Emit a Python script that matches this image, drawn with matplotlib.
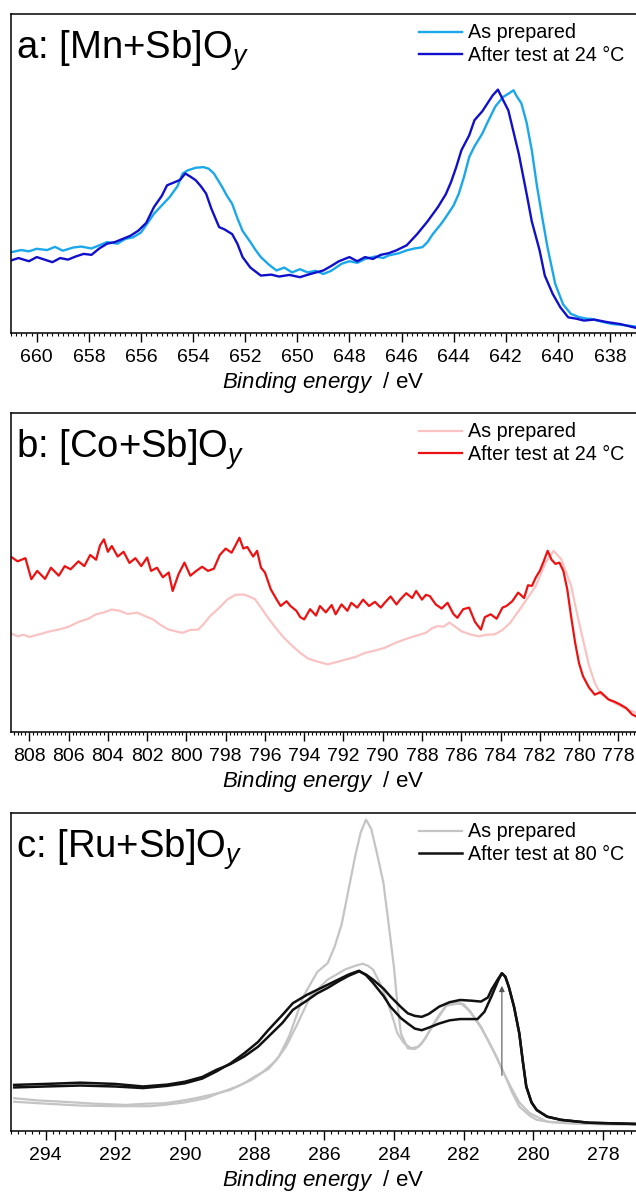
import matplotlib
matplotlib.use('Agg')
import matplotlib.pyplot as plt
from matplotlib.ticker import MultipleLocator

plt.rcParams['font.family'] = ['Liberation Sans', 'DejaVu Sans']
plt.rcParams['mathtext.fontset'] = 'custom'
plt.rcParams['mathtext.rm'] = 'Liberation Sans'
plt.rcParams['mathtext.it'] = 'Liberation Sans:italic'

# ── panel a: Mn 2p ──
mn_prep_x = [661.0, 660.6, 660.3, 660.0, 659.6, 659.3, 659.0, 658.6, 658.3, 657.9, 657.6, 657.3, 656.9,
             656.6, 656.3, 656.0, 655.7, 655.5, 655.2, 654.9, 654.6, 654.4, 654.2, 653.9, 653.6, 653.4,
             653.2, 652.9, 652.7, 652.5, 652.3, 652.1, 651.8, 651.6, 651.4, 651.1, 650.8, 650.5, 650.2,
             649.9, 649.6, 649.3, 649.0, 648.7, 648.3, 648.0, 647.7, 647.4, 647.0, 646.7, 646.5, 646.1,
             645.8, 645.5, 645.2, 645.0, 644.8, 644.5, 644.3, 644.0, 643.8, 643.6, 643.4, 643.2, 642.9,
             642.7, 642.4, 642.1, 641.9, 641.7, 641.6, 641.4, 641.2, 641.0, 640.8, 640.6, 640.4, 640.1,
             639.8, 639.5, 639.2, 638.9, 638.7, 638.3, 637.9, 637.5, 637.0]
mn_prep_y = [25.3, 26.0, 25.6, 26.4, 26.0, 27.0, 25.8, 26.8, 27.1, 26.5, 27.5, 28.5, 28.0,
             29.5, 30.0, 31.5, 35.0, 37.4, 40.0, 42.6, 46.0, 50.0, 51.0, 51.8, 52.0, 51.5,
             50.0, 46.0, 43.0, 40.5, 36.0, 32.0, 28.5, 26.0, 23.8, 21.5, 19.6, 20.5, 19.0,
             20.0, 19.0, 19.5, 18.5, 19.5, 21.7, 22.5, 22.0, 23.2, 24.0, 23.5, 24.3, 25.0,
             25.9, 26.5, 26.9, 28.5, 31.0, 34.0, 36.3, 40.0, 43.7, 49.0, 55.2, 58.5, 62.5,
             66.0, 71.0, 74.0, 75.0, 76.1, 74.5, 72.0, 66.0, 57.3, 46.0, 36.3, 27.0, 15.4,
             9.0, 6.0, 5.0, 4.5, 4.4, 3.5, 2.8, 2.5, 2.0]
mn_test_x = [661.0, 660.7, 660.3, 660.0, 659.7, 659.4, 659.1, 658.8, 658.5, 658.2, 657.9, 657.6, 657.3,
             657.0, 656.7, 656.4, 656.1, 655.8, 655.5, 655.2, 655.0, 654.7, 654.5, 654.3, 654.1, 653.9,
             653.7, 653.5, 653.3, 653.0, 652.8, 652.5, 652.3, 652.1, 651.8, 651.4, 651.0, 650.7, 650.3,
             649.9, 649.5, 649.0, 648.7, 648.4, 648.0, 647.7, 647.4, 647.1, 646.8, 646.5, 646.2, 645.8,
             645.4, 645.0, 644.6, 644.3, 644.1, 643.9, 643.7, 643.4, 643.2, 642.9, 642.7, 642.5, 642.3,
             642.1, 641.9, 641.7, 641.5, 641.2, 641.0, 640.7, 640.5, 640.2, 639.9, 639.6, 639.3, 639.0,
             638.6, 638.1, 637.6, 637.0]
mn_test_y = [22.7, 23.5, 22.5, 23.8, 23.0, 22.2, 23.5, 23.0, 24.0, 24.8, 24.5, 26.5, 28.0,
             28.5, 29.5, 30.5, 32.1, 34.5, 39.5, 43.0, 46.3, 47.3, 48.0, 50.0, 49.0, 47.9,
             46.0, 43.7, 39.0, 33.2, 32.5, 31.0, 28.0, 23.8, 20.5, 18.0, 18.3, 17.7, 18.2,
             17.5, 18.5, 19.6, 21.0, 22.5, 23.8, 22.5, 23.8, 23.2, 24.5, 25.0, 25.9, 27.5,
             31.0, 35.0, 39.5, 43.5, 47.3, 52.0, 57.3, 62.0, 66.7, 69.5, 72.0, 74.5, 76.3,
             73.0, 69.8, 63.0, 56.2, 43.7, 35.0, 25.9, 18.0, 12.3, 8.0, 4.9, 4.5, 3.9,
             4.2, 3.4, 2.8, 1.6]

# ── panel b: Co 2p ──
co_prep_x = [809.0, 808.6, 808.3, 808.0, 807.5, 807.0, 806.5, 806.0, 805.5, 805.0, 804.6, 804.2, 803.8,
             803.4, 803.0, 802.5, 802.1, 801.7, 801.3, 800.9, 800.5, 800.2, 799.8, 799.4, 799.1, 798.8,
             798.4, 797.9, 797.5, 797.1, 796.8, 796.5, 796.2, 795.9, 795.5, 795.1, 794.7, 794.2, 793.8,
             793.4, 792.8, 792.3, 791.9, 791.4, 790.9, 790.4, 789.9, 789.4, 788.9, 788.4, 787.8, 787.5,
             787.2, 786.9, 786.6, 786.3, 786.0, 785.5, 785.1, 784.7, 784.3, 783.9, 783.5, 782.9, 782.2,
             781.7, 781.3, 780.9, 780.4, 780.1, 779.8, 779.5, 779.2, 778.9, 778.5, 778.1, 777.7, 777.1]
co_prep_y = [31.1, 30.0, 30.5, 29.8, 30.6, 31.5, 32.1, 33.0, 34.5, 35.5, 36.9, 37.5, 38.4,
             38.0, 37.0, 37.4, 36.3, 35.3, 33.5, 32.1, 31.5, 31.1, 32.0, 32.1, 34.0, 36.3,
             38.5, 41.6, 43.0, 43.1, 42.5, 41.6, 39.0, 36.3, 33.0, 30.0, 27.5, 24.8, 23.0,
             22.2, 21.2, 22.0, 22.7, 23.5, 24.8, 25.5, 26.4, 27.8, 29.0, 30.0, 31.1, 32.5,
             33.2, 33.0, 34.3, 33.0, 31.6, 30.5, 30.0, 30.5, 30.6, 32.0, 34.3, 39.5, 45.8,
             53.1, 56.8, 54.1, 45.8, 37.0, 29.0, 21.0, 15.4, 12.0, 10.2, 8.8, 7.5, 6.0]
co_test_x = [809.0, 808.6, 808.2, 807.9, 807.6, 807.2, 806.9, 806.5, 806.2, 805.9, 805.5, 805.2, 804.9,
             804.6, 804.4, 804.2, 804.0, 803.8, 803.5, 803.2, 802.9, 802.6, 802.3, 802.0, 801.8, 801.5,
             801.2, 800.9, 800.7, 800.4, 800.1, 799.8, 799.5, 799.2, 798.9, 798.6, 798.3, 798.0, 797.7,
             797.5, 797.3, 797.1, 796.9, 796.6, 796.4, 796.2, 796.0, 795.7, 795.4, 795.2, 794.9, 794.7,
             794.4, 794.2, 794.0, 793.7, 793.4, 793.2, 792.9, 792.6, 792.4, 792.1, 791.8, 791.6, 791.3,
             791.0, 790.7, 790.4, 790.1, 789.9, 789.6, 789.3, 789.1, 788.8, 788.5, 788.3, 788.0, 787.8,
             787.6, 787.3, 787.0, 786.7, 786.4, 786.2, 785.9, 785.6, 785.3, 785.0, 784.8, 784.5, 784.2,
             783.9, 783.7, 783.4, 783.1, 782.8, 782.6, 782.4, 782.2, 782.0, 781.8, 781.6, 781.4, 781.2,
             781.0, 780.8, 780.6, 780.4, 780.2, 780.0, 779.8, 779.5, 779.2, 778.9, 778.5, 778.2, 777.9,
             777.6, 777.3, 777.1]
co_test_y = [55.2, 53.5, 54.5, 47.9, 50.5, 48.0, 51.5, 49.0, 52.0, 51.0, 53.5, 52.0, 55.5,
             54.0, 58.5, 60.4, 56.5, 58.3, 55.0, 56.5, 53.0, 54.5, 52.0, 54.7, 50.5, 51.5,
             48.5, 50.0, 44.2, 49.5, 53.1, 49.0, 50.5, 51.8, 50.5, 51.2, 55.5, 57.5, 56.2,
             58.5, 60.9, 57.5, 58.0, 55.0, 56.8, 51.5, 50.0, 44.7, 41.5, 39.5, 41.0, 39.5,
             38.0, 36.0, 35.3, 38.5, 36.5, 39.5, 37.5, 39.8, 36.9, 40.0, 38.0, 40.5, 39.0,
             41.5, 39.5, 40.8, 39.0, 40.5, 42.5, 40.0, 41.6, 43.5, 42.0, 44.2, 41.5, 43.0,
             42.6, 40.0, 38.7, 40.5, 37.0, 35.8, 38.5, 39.0, 34.5, 32.1, 36.0, 36.9, 35.5,
             39.0, 39.5, 41.0, 43.7, 42.0, 46.0, 45.8, 48.5, 50.5, 53.5, 56.8, 54.0, 52.7,
             53.1, 50.5, 44.7, 36.0, 28.0, 21.5, 17.5, 14.0, 11.7, 12.5, 10.2, 9.5, 8.6,
             7.5, 5.5, 4.9]

# ── panel c: Ru 3d / C 1s (two spectra each) ──
ru_prep1_x = [294.9, 294.2, 293.5, 292.6, 291.7, 291.1, 290.6, 290.1, 289.7, 289.2, 288.7, 288.3, 288.0,
              287.6, 287.3, 287.0, 286.6, 286.2, 285.9, 285.7, 285.5, 285.3, 285.1, 284.95, 284.8, 284.65,
              284.5, 284.3, 284.15, 284.0, 283.9, 283.8, 283.6, 283.4, 283.3, 283.1, 282.9, 282.7, 282.5,
              282.3, 282.1, 281.9, 281.8, 281.5, 281.3, 281.0, 280.8, 280.6, 280.4, 280.1, 279.9, 279.5,
              279.0, 278.0, 277.0]
ru_prep1_y = [10.3, 9.6, 9.2, 8.6, 8.2, 8.6, 8.7, 9.5, 10.3, 11.5, 12.9, 15.0, 17.1,
              19.5, 23.4, 30.0, 42.3, 50.0, 52.8, 58.0, 65.0, 76.0, 87.0, 94.0, 97.9, 95.0,
              88.0, 78.0, 65.0, 51.7, 40.0, 30.7, 26.0, 25.8, 26.5, 29.0, 33.1, 36.5, 39.4,
              40.2, 40.4, 38.5, 37.3, 32.5, 28.6, 22.0, 17.1, 12.0, 7.7, 4.8, 3.5, 2.8,
              2.4, 2.1, 1.9]
ru_prep2_x = [294.9, 294.0, 293.0, 292.0, 291.0, 290.6, 290.0, 289.4, 289.0, 288.5, 288.1, 287.8, 287.4,
              287.1, 286.8, 286.4, 286.1, 285.9, 285.6, 285.4, 285.1, 284.9, 284.75, 284.6, 284.4, 284.2,
              284.0, 283.9, 283.7, 283.5, 283.3, 283.2, 283.0, 282.8, 282.5, 282.2, 282.0, 281.8, 281.5,
              281.3, 281.1, 280.9, 280.6, 280.4, 280.1, 279.6, 278.5, 277.0]
ru_prep2_y = [9.2, 8.6, 8.0, 7.8, 7.8, 8.2, 9.0, 10.3, 12.0, 14.0, 16.0, 18.2, 22.0,
              26.5, 33.0, 42.3, 45.5, 47.6, 49.5, 50.8, 52.0, 52.6, 52.0, 50.8, 46.5, 41.2,
              34.5, 30.7, 27.5, 26.0, 26.5, 27.5, 31.0, 34.4, 39.4, 40.0, 39.9, 37.5, 32.8,
              28.5, 24.4, 19.5, 12.9, 9.0, 5.6, 2.9, 2.3, 2.2]
ru_test1_x = [294.9, 294.0, 293.0, 292.0, 291.2, 290.5, 290.0, 289.5, 289.1, 288.7, 288.3, 287.9, 287.6,
              287.2, 286.9, 286.5, 286.2, 285.9, 285.6, 285.3, 285.0, 284.8, 284.6, 284.3, 284.1, 283.8,
              283.6, 283.4, 283.2, 283.0, 282.7, 282.4, 282.1, 281.8, 281.5, 281.3, 281.2, 281.0, 280.9,
              280.8, 280.7, 280.55, 280.4, 280.3, 280.2, 280.05, 279.9, 279.6, 279.2, 278.4, 277.0]
ru_test1_y = [14.5, 14.8, 15.2, 14.8, 14.0, 14.6, 15.5, 17.0, 19.2, 21.0, 23.4, 26.5, 29.7,
              34.0, 38.1, 41.0, 43.3, 45.0, 47.0, 48.8, 50.2, 49.2, 47.6, 44.8, 42.3, 39.0,
              37.0, 36.2, 35.9, 36.8, 39.1, 40.5, 41.2, 41.0, 40.7, 42.0, 44.4, 48.0, 49.6,
              48.5, 45.3, 39.0, 30.7, 22.0, 14.0, 9.0, 6.6, 4.5, 3.5, 2.6, 2.2]
ru_test2_x = [294.9, 294.0, 293.0, 292.0, 291.2, 290.5, 290.0, 289.5, 289.1, 288.7, 288.3, 287.9, 287.6,
              287.2, 286.9, 286.5, 286.2, 285.9, 285.6, 285.3, 285.0, 284.8, 284.6, 284.3, 284.1, 283.8,
              283.6, 283.4, 283.2, 283.0, 282.7, 282.4, 282.1, 281.8, 281.6, 281.4, 281.2, 281.0, 280.9,
              280.8, 280.7, 280.55, 280.4, 280.3, 280.2, 280.05, 279.9, 279.6, 279.2, 278.4, 277.0]
ru_test2_y = [13.7, 14.0, 14.3, 14.0, 13.5, 14.2, 15.0, 16.5, 18.7, 21.2, 24.4, 28.0, 31.8,
              36.5, 40.2, 42.8, 44.4, 46.0, 47.6, 49.2, 50.4, 49.0, 46.6, 42.5, 39.1, 35.5,
              33.8, 32.2, 31.7, 32.5, 33.8, 34.8, 35.2, 35.2, 35.2, 37.5, 42.3, 47.5, 49.6,
              48.5, 45.3, 39.0, 30.7, 22.0, 14.0, 9.0, 6.6, 4.5, 3.5, 2.6, 2.2]

W, H = 636, 1200
fig = plt.figure(figsize=(W / 100, H / 100), dpi=100)


def make_axes(top_px, bottom_px):
    left = 10.7 / W
    ax = fig.add_axes([left, 1 - bottom_px / H, 1.0 - left, (bottom_px - top_px) / H])
    ax.set_ylim(0, 100)
    ax.set_yticks([])
    ax.spines['right'].set_visible(False)
    for s in ('left', 'top', 'bottom'):
        ax.spines[s].set_linewidth(1.1)
    ax.xaxis.set_major_locator(MultipleLocator(2))
    ax.xaxis.set_minor_locator(MultipleLocator(0.2))
    ax.tick_params(axis='x', which='major', direction='out', length=6.5, width=1.0,
                   labelsize=14, pad=5)
    ax.tick_params(axis='x', which='minor', direction='out', length=2.5, width=0.8)
    ax.set_xlabel(r'$\mathit{Binding\ energy}$  / eV', fontsize=16, labelpad=3)
    return ax


def decorate(ax, title, handles):
    ax.text(0.009, 0.86, title, transform=ax.transAxes, fontsize=27.5, va='baseline', ha='left')
    ax.legend(handles=handles, loc='upper left', bbox_to_anchor=(0.64, 0.995), frameon=False,
              fontsize=14.2, handlelength=2.2, handletextpad=0.3, labelspacing=0.18, borderaxespad=0)


# a
ax = make_axes(14, 333)
ax.set_xlim(661.0, 637.0)
l1, = ax.plot(mn_prep_x, mn_prep_y, color='#1AA7EC', lw=1.7, label='As prepared')
l2, = ax.plot(mn_test_x, mn_test_y, color='#1010CC', lw=1.7, label='After test at 24 °C')
decorate(ax, r'a: [Mn+Sb]O$_{y}$', [l1, l2])

# b
ax = make_axes(413, 732)
ax.set_xlim(808.95, 777.1)
l1, = ax.plot(co_prep_x, co_prep_y, color='#FAC3C3', lw=1.6, label='As prepared')
l2, = ax.plot(co_test_x, co_test_y, color='#EE1111', lw=1.6, label='After test at 24 °C')
decorate(ax, r'b: [Co+Sb]O$_{y}$', [l1, l2])

# c
ax = make_axes(813, 1131)
ax.set_xlim(295.0, 277.05)
l1, = ax.plot(ru_prep1_x, ru_prep1_y, color='#C4C4C4', lw=1.6, label='As prepared')
ax.plot(ru_prep2_x, ru_prep2_y, color='#C4C4C4', lw=1.6)
l2, = ax.plot(ru_test1_x, ru_test1_y, color='#111111', lw=1.8, label='After test at 80 °C')
ax.plot(ru_test2_x, ru_test2_y, color='#111111', lw=1.8)
ax.annotate('', xy=(280.9, 46.5), xytext=(280.9, 16.6),
            arrowprops=dict(arrowstyle='-|>', color='#555555', lw=0.8, mutation_scale=8))
decorate(ax, r'c: [Ru+Sb]O$_{y}$', [l1, l2])

fig.savefig('out.png', dpi=100, facecolor='white')
